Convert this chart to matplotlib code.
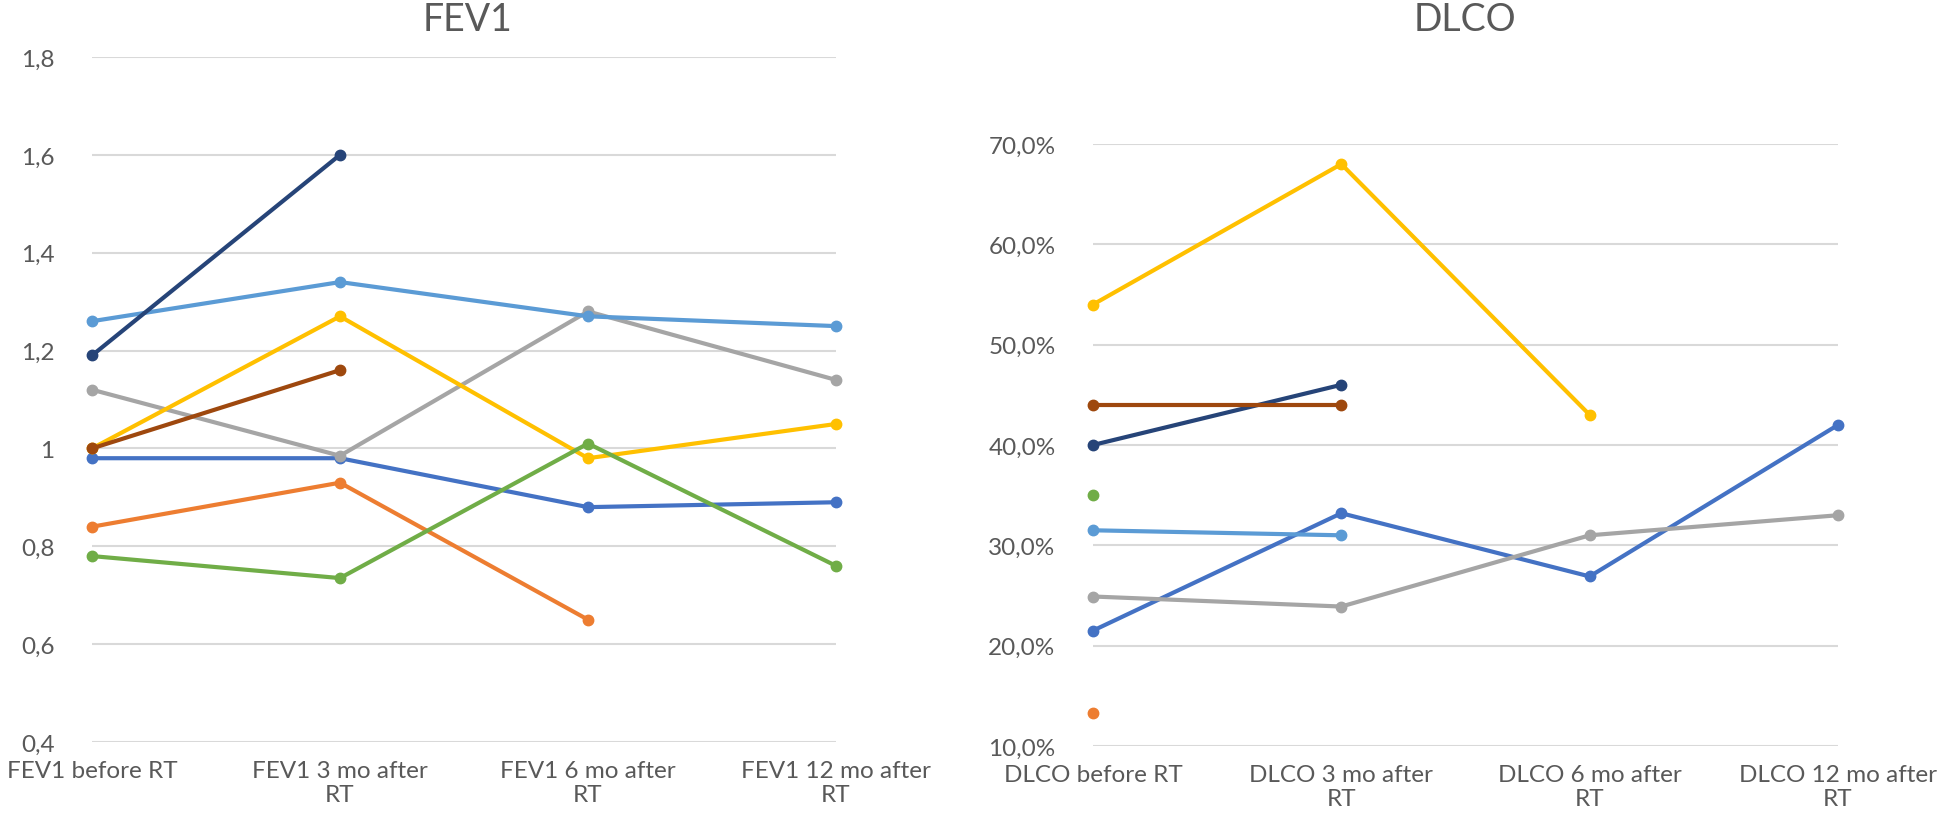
import numpy as np
import matplotlib
matplotlib.use("Agg")
import matplotlib.pyplot as plt
from matplotlib.ticker import FuncFormatter

nan = np.nan

fev1_labels = ["FEV1 before RT", "FEV1 3 mo after\nRT", "FEV1 6 mo after\nRT", "FEV1 12 mo after\nRT"]
dlco_labels = ["DLCO before RT", "DLCO 3 mo after\nRT", "DLCO 6 mo after\nRT", "DLCO 12 mo after\nRT"]

# one entry per patient, Excel default colour order
colors = ["#4472C4", "#ED7D31", "#A5A5A5", "#FFC000", "#5B9BD5", "#70AD47", "#264478", "#9E480E"]

fev1_p1 = [0.98, 0.98, 0.88, 0.89]
fev1_p2 = [0.84, 0.93, 0.65, nan]
fev1_p3 = [1.12, 0.985, 1.28, 1.14]
fev1_p4 = [1.00, 1.27, 0.98, 1.05]
fev1_p5 = [1.26, 1.34, 1.27, 1.25]
fev1_p6 = [0.78, 0.735, 1.01, 0.76]
fev1_p7 = [1.19, 1.60, nan, nan]
fev1_p8 = [1.00, 1.16, nan, nan]

dlco_p1 = [21.5, 33.2, 26.9, 42.0]
dlco_p2 = [13.3, nan, nan, nan]
dlco_p3 = [24.9, 23.9, 31.0, 33.0]
dlco_p4 = [54.0, 68.0, 43.0, nan]
dlco_p5 = [31.5, 31.0, nan, nan]
dlco_p6 = [35.0, nan, nan, nan]
dlco_p7 = [40.0, 46.0, nan, nan]
dlco_p8 = [44.0, 44.0, nan, nan]

fev1_series = [fev1_p1, fev1_p2, fev1_p3, fev1_p4, fev1_p5, fev1_p6, fev1_p7, fev1_p8]
dlco_series = [dlco_p1, dlco_p2, dlco_p3, dlco_p4, dlco_p5, dlco_p6, dlco_p7, dlco_p8]

fev1_ticks = [0.4, 0.6, 0.8, 1.0, 1.2, 1.4, 1.6, 1.8]
dlco_ticks = [10, 20, 30, 40, 50, 60, 70]

plt.rcParams["font.family"] = ["Lato", "DejaVu Sans"]
text_color = "#595959"

W, H = 1946, 829
fig = plt.figure(figsize=(W / 100, H / 100), dpi=100)

ax1 = fig.add_axes([92 / W, 1 - 743 / H, 744 / W, (743 - 58) / H])
ax2 = fig.add_axes([1093 / W, 1 - 747 / H, 745 / W, (747 - 145) / H])


def style(ax, labels, ticks, fmt):
    ax.set_xlim(0, 3)
    ax.set_ylim(ticks[0], ticks[-1])
    ax.set_yticks(ticks)
    ax.yaxis.set_major_formatter(FuncFormatter(fmt))
    ax.set_xticks(range(4))
    ax.set_xticklabels(labels, linespacing=1.2)
    ax.grid(axis="y", color="#D9D9D9", linewidth=1.5, zorder=0)
    ax.set_axisbelow(True)
    for s in ax.spines.values():
        s.set_visible(False)
    ax.tick_params(axis="both", length=0, colors=text_color, labelsize=17.5)
    ax.tick_params(axis="y", pad=27)
    ax.tick_params(axis="x", pad=13)


def draw(ax, series):
    x = np.arange(4)
    for vals, c in zip(series, colors):
        ax.plot(x, vals, color=c, linewidth=3.0, marker="o", markersize=7.5,
                clip_on=False, zorder=3)


style(ax1, fev1_labels, fev1_ticks, lambda v, p: f"{v:g}".replace(".", ","))
style(ax2, dlco_labels, dlco_ticks, lambda v, p: f"{v:.1f}%".replace(".", ","))
draw(ax1, fev1_series)
draw(ax2, dlco_series)

fig.text(468 / W, 1 - 20 / H, "FEV1", ha="center", va="center", fontsize=27, color=text_color)
fig.text(1465 / W, 1 - 20 / H, "DLCO", ha="center", va="center", fontsize=27, color=text_color)

fig.savefig("out.png", dpi=100, facecolor="white")
